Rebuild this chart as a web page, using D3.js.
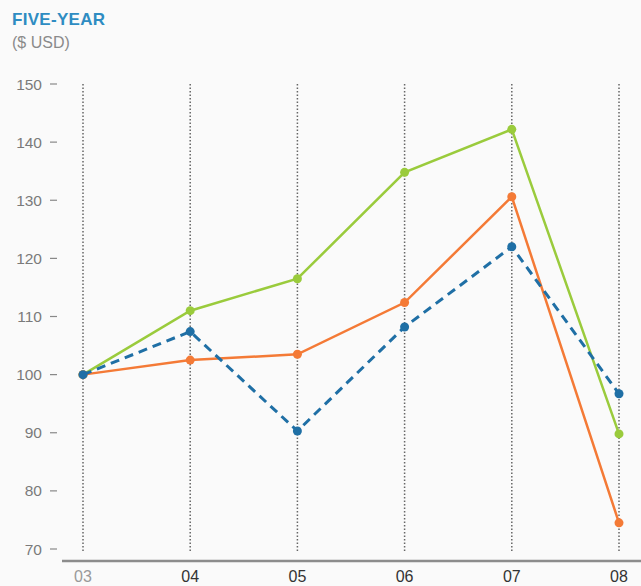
<!DOCTYPE html>
<html>
<head>
<meta charset="utf-8">
<title>Five-year</title>
<style>
body { margin: 0; background: #fafafa; }
svg { display: block; font-family: "Liberation Sans", Arial, sans-serif; }
</style>
</head>
<body>
<script src="https://cdn.jsdelivr.net/npm/d3@7"></script>
<script>
'use strict'

const years = ['03', '04', '05', '06', '07', '08']
const greenSeries = [100, 111, 116.5, 134.8, 142.2, 89.8]
const orangeSeries = [100, 102.5, 103.5, 112.4, 130.6, 74.5]
const blueSeries = [100, 107.4, 90.3, 108.2, 122, 96.7]
const yTicks = [70, 80, 90, 100, 110, 120, 130, 140, 150]

const w = 641
const h = 586

const svg = d3.select('body').append('svg')
  .attr('width', w)
  .attr('height', h)

const x = d3.scalePoint().domain(years).range([83, 619])
const y = d3.scaleLinear().domain([70, 150]).range([549, 84])

// title
svg.append('text')
  .attr('x', 12).attr('y', 25)
  .attr('fill', '#2e8cc2')
  .attr('font-size', '17px')
  .attr('font-weight', 'bold')
  .attr('letter-spacing', '0.3px')
  .text('FIVE-YEAR')
svg.append('text')
  .attr('x', 12).attr('y', 48)
  .attr('fill', '#8a8a8a')
  .attr('font-size', '16px')
  .text('($ USD)')

// dotted verticals
svg.selectAll('line.grid')
  .data(years)
  .enter()
  .append('line')
  .attr('class', 'grid')
  .attr('x1', d => x(d)).attr('x2', d => x(d))
  .attr('y1', 84).attr('y2', 553)
  .attr('stroke', '#666')
  .attr('stroke-width', 1.5)
  .attr('stroke-dasharray', '1.5,2')

// y axis: labels + small dashes
const yAxis = svg.append('g')
yAxis.selectAll('text')
  .data(yTicks)
  .enter()
  .append('text')
  .attr('x', 42)
  .attr('y', d => y(d) + 5.5)
  .attr('text-anchor', 'end')
  .attr('fill', '#7a7a7a')
  .attr('font-size', '15.5px')
  .text(d => d)
yAxis.selectAll('line')
  .data(yTicks)
  .enter()
  .append('line')
  .attr('x1', 50).attr('x2', 57)
  .attr('y1', d => y(d)).attr('y2', d => y(d))
  .attr('stroke', '#888')
  .attr('stroke-width', 1.2)

// x axis base line
svg.append('line')
  .attr('x1', 62).attr('x2', w)
  .attr('y1', 561).attr('y2', 561)
  .attr('stroke', '#8c8c8c')
  .attr('stroke-width', 2.5)

svg.selectAll('text.xlab')
  .data(years)
  .enter()
  .append('text')
  .attr('class', 'xlab')
  .attr('x', d => x(d))
  .attr('y', 582)
  .attr('text-anchor', 'middle')
  .attr('font-size', '16px')
  .attr('fill', (d, i) => i === 0 ? '#999' : '#333')
  .text(d => d)

const line = d3.line()
  .x((d, i) => x(years[i]))
  .y(d => y(d))

const series = [
  { values: greenSeries, color: '#9acb3c', dash: null, width: 2.5 },
  { values: orangeSeries, color: '#f47a36', dash: null, width: 2.5 },
  { values: blueSeries, color: '#1f6fa5', dash: '9,6', width: 3 }
]

series.forEach(s => {
  svg.append('path')
    .datum(s.values)
    .attr('d', line)
    .attr('fill', 'none')
    .attr('stroke', s.color)
    .attr('stroke-width', s.width)
    .attr('stroke-dasharray', s.dash)
  svg.selectAll(null)
    .data(s.values)
    .enter()
    .append('circle')
    .attr('cx', (d, i) => x(years[i]))
    .attr('cy', d => y(d))
    .attr('r', 4.5)
    .attr('fill', s.color)
})
</script>
</body>
</html>
